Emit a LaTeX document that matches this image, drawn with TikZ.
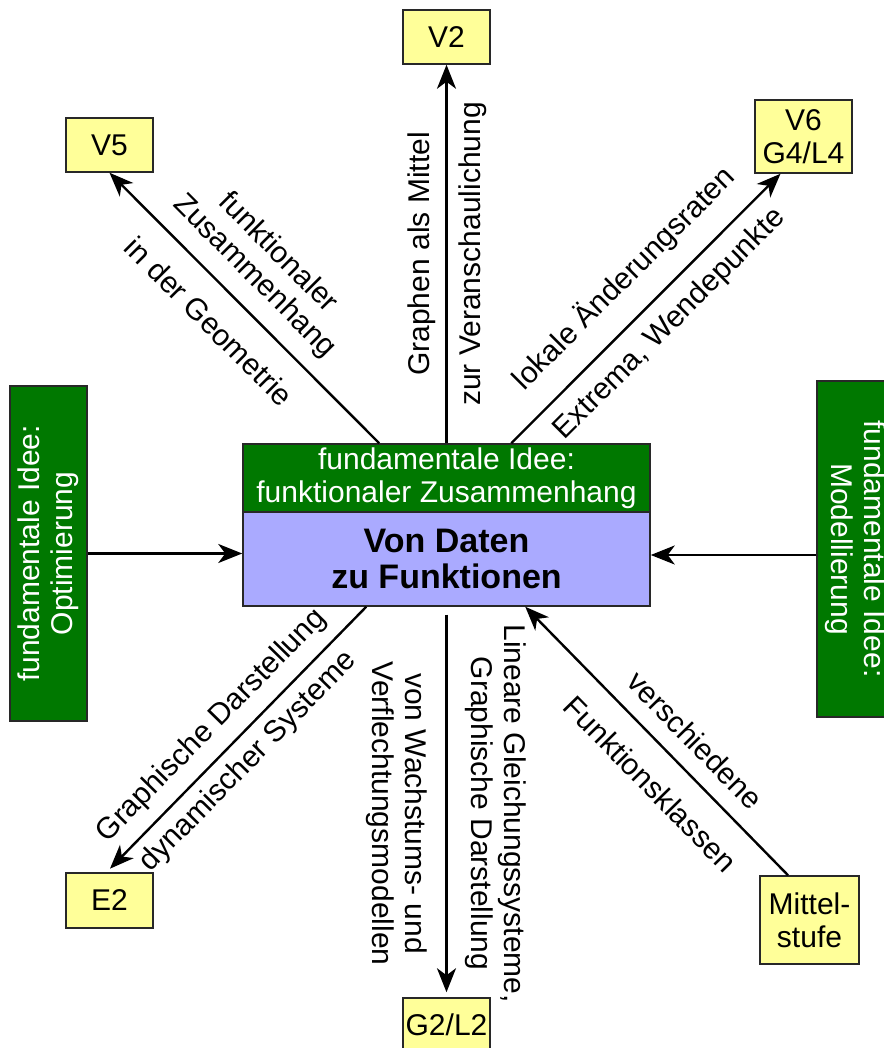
\documentclass[tikz,border=0pt]{standalone}
\usepackage{fontspec}
\setmainfont{Liberation Sans}
\usetikzlibrary{arrows.meta, positioning}

\definecolor{ideagreen}{RGB}{0,120,0}
\definecolor{boxyellow}{RGB}{255,255,153}
\definecolor{mainblue}{RGB}{170,170,255}
\definecolor{rimgray}{RGB}{40,40,40}

\begin{document}
\begin{tikzpicture}[
                x=1pt, y=1pt,
                box/.style={draw=rimgray, line width=1.5pt, fill=boxyellow, align=center, inner sep=0pt, font=\fontsize{30}{33}\selectfont},
                idea/.style={draw=rimgray, line width=1.5pt, fill=ideagreen, text=white, align=center, inner sep=0pt, font=\fontsize{30}{33}\selectfont},
                lab/.style={align=center, inner sep=2pt, font=\fontsize{30}{33}\selectfont},
                arrow/.style={-{Stealth[length=24pt, width=19pt, inset=7pt]}, line width=2.4pt}]

            \useasboundingbox (0,0) rectangle (883,1048);

            % Mitte
            \node[draw=rimgray, line width=1.5pt, fill=mainblue, minimum width=407pt, minimum height=94pt, align=center,
                  font=\bfseries\fontsize{34}{36}\selectfont] (main) at (446.5,489) {Von Daten\\zu Funktionen};
            \node[idea, minimum width=407pt, minimum height=68pt, above=-1.5pt of main] (head) {fundamentale Idee:\\funktionaler Zusammenhang};

            % Kurse
            \node[box, minimum width=87pt, minimum height=54pt] (v2) at (446.5,1011) {V2};
            \node[box, minimum width=87pt, minimum height=54pt] (v5) at (109.5,903) {V5};
            \node[box, minimum width=97pt, minimum height=73pt] (v6) at (803.5,911.5) {V6\\G4/L4};
            \node[box, minimum width=87pt, minimum height=55pt] (e2) at (109.5,147.5) {E2};
            \node[box, minimum width=87pt, minimum height=54pt] (g2) at (446.5,23) {G2/L2};
            \node[box, minimum width=99pt, minimum height=88pt] (mittel) at (809.5,128) {Mittel-\\stufe};

            % fundamentale Ideen
            \node[idea, rotate=90, minimum width=335pt, minimum height=77pt] (optim) at (48.5,494.5) {fundamentale Idee:\\Optimierung};
            \node[idea, rotate=-90, minimum width=336pt, minimum height=77pt] (modell) at (855.5,499) {fundamentale Idee:\\Modellierung};

            % Pfeile
            \draw[arrow] (head.north) --
                node[lab, sloped, allow upside down, pos=0.5, above=8pt] (l2a) {Graphen als Mittel}
                node[lab, sloped, allow upside down, pos=0.5, below=9pt] (l2b) {zur Veranschaulichung} (v2.south);
            \draw[arrow] ([xshift=137pt]head.north west) --
                node[lab, sloped, pos=0.54, above=12pt] (l5a) {funktionaler\\Zusammenhang}
                node[lab, sloped, pos=0.54, below=20pt] (l5b) {in der Geometrie} (v5.south);
            \draw[arrow] ([xshift=269pt]head.north west) --
                node[lab, sloped, pos=0.515, above=18pt] (l6a) {lokale Änderungsraten}
                node[lab, sloped, pos=0.515, below=11pt] (l6b) {Extrema, Wendepunkte} ([xshift=-23pt]v6.south);
            \draw[arrow, shorten >=5pt] ([xshift=124pt]main.south west) --
                node[lab, sloped, pos=0.52, above=10pt] (le2a) {Graphische Darstellung}
                node[lab, sloped, pos=0.52, below=7pt] (le2b) {dynamischer Systeme} ([xshift=-3pt]e2.north);
            \draw[arrow, shorten >=5pt] ([yshift=-8pt]main.south) --
                node[lab, sloped, allow upside down, pos=0.52, above=16pt] (lg2a) {Lineare Gleichungssysteme,\\Graphische Darstellung}
                node[lab, sloped, allow upside down, pos=0.52, below=16pt] (lg2b) {von Wachstums- und\\Verflechtungsmodellen} (g2.north);
            \draw[arrow] ([xshift=-21.5pt]mittel.north) --
                node[lab, sloped, pos=0.43, above=14pt] (lma) {verschiedene}
                node[lab, sloped, pos=0.43, below=20pt] (lmb) {Funktionsklassen} ([xshift=283pt]main.south west);
            \draw[arrow] (optim.south) -- (optim.south -| main.west);
            \draw[arrow] ([yshift=-6pt]modell.south) -- ([yshift=-6pt]modell.south -| main.east);

        \end{tikzpicture}
\end{document}
